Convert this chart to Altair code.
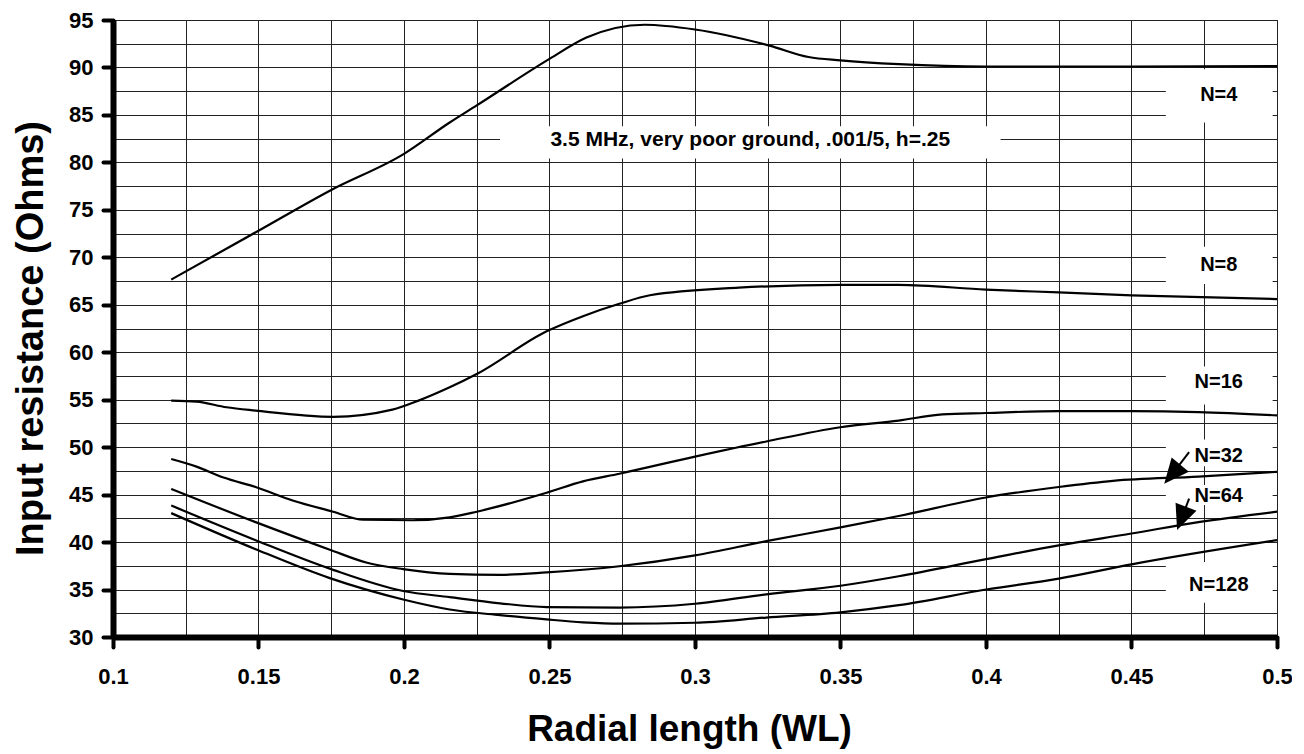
import altair as alt
import pandas as pd

# ---- data ----
x_n4 = [0.12, 0.15, 0.175, 0.2, 0.2157, 0.225, 0.25, 0.2627, 0.2827, 0.30, 0.3256, 0.339, 0.35, 0.37, 0.40, 0.45, 0.50]
y_n4 = [67.65, 72.8, 77.1, 80.9, 84.2, 86.0, 90.9, 93.15, 94.5, 94.0, 92.3, 91.1, 90.75, 90.35, 90.1, 90.1, 90.15]

x_n8 = [0.12, 0.1287, 0.139, 0.149, 0.1757, 0.196, 0.205, 0.2157, 0.225, 0.249, 0.2615, 0.274, 0.2845, 0.315, 0.35, 0.37, 0.40, 0.425, 0.45, 0.50]
y_n8 = [54.9, 54.8, 54.2, 53.85, 53.2, 53.95, 54.9, 56.3, 57.7, 62.2, 63.8, 65.1, 66.0, 66.8, 67.1, 67.1, 66.6, 66.3, 66.0, 65.6]

x_n16 = [0.12, 0.1287, 0.138, 0.149, 0.162, 0.1757, 0.186, 0.203, 0.2157, 0.225, 0.249, 0.2615, 0.274, 0.30, 0.3245, 0.35, 0.37, 0.385, 0.40, 0.425, 0.45, 0.473, 0.50]
y_n16 = [48.75, 47.95, 46.8, 45.8, 44.35, 43.2, 42.35, 42.3, 42.6, 43.2, 45.2, 46.4, 47.2, 49.0, 50.6, 52.1, 52.8, 53.45, 53.6, 53.8, 53.8, 53.7, 53.35]

x_n32 = [0.12, 0.149, 0.1745, 0.187, 0.1997, 0.2157, 0.233, 0.249, 0.274, 0.30, 0.3245, 0.35, 0.37, 0.40, 0.425, 0.4436, 0.473, 0.50]
y_n32 = [45.6, 42.1, 39.2, 37.85, 37.15, 36.65, 36.55, 36.8, 37.45, 38.6, 40.1, 41.55, 42.75, 44.7, 45.8, 46.45, 46.9, 47.4]

x_n64 = [0.12, 0.149, 0.1745, 0.1997, 0.2157, 0.233, 0.249, 0.274, 0.30, 0.3245, 0.35, 0.37, 0.40, 0.425, 0.45, 0.473, 0.50]
y_n64 = [43.85, 40.2, 37.2, 34.85, 34.2, 33.55, 33.15, 33.1, 33.5, 34.5, 35.4, 36.4, 38.2, 39.65, 40.9, 42.1, 43.2]

x_n128 = [0.12, 0.149, 0.1745, 0.1997, 0.2157, 0.233, 0.249, 0.2615, 0.274, 0.30, 0.3245, 0.35, 0.37, 0.40, 0.425, 0.45, 0.50]
y_n128 = [43.05, 39.25, 36.2, 33.95, 32.9, 32.3, 31.85, 31.55, 31.4, 31.5, 32.05, 32.6, 33.35, 35.0, 36.15, 37.65, 40.2]

series_names = ["N=4", "N=8", "N=16", "N=32", "N=64", "N=128"]
series_x = [x_n4, x_n8, x_n16, x_n32, x_n64, x_n128]
series_y = [y_n4, y_n8, y_n16, y_n32, y_n64, y_n128]

# curve labels
label_text = ["N=4", "N=8", "N=16", "N=32", "N=64", "N=128"]
label_x = [0.48, 0.48, 0.48, 0.48, 0.48, 0.48]
label_y = [87.14, 69.2, 56.84, 49.07, 44.86, 35.47]

# white boxes behind labels (gaps in the grid)
box_x1 = [0.233, 0.4618, 0.4618, 0.4618, 0.4618, 0.4618, 0.4618]
box_x2 = [0.405, 0.4985, 0.4985, 0.4985, 0.4985, 0.4985, 0.4985]
box_y1 = [80.4, 84.2, 67.2, 54.5, 48.0, 43.9, 33.6]
box_y2 = [83.8, 89.8, 71.1, 58.5, 50.8, 46.0, 37.9]

# annotation
note_text = ["3.5 MHz, very poor ground, .001/5, h=.25"]
note_x = [0.319]
note_y = [82.34]

# arrows (N=32, N=64)
arrow_x1 = [0.4698, 0.4698]
arrow_y1 = [49.48, 44.57]
arrow_x2 = [0.4640, 0.4672]
arrow_y2 = [47.15, 42.5]
arrow_angle = [220, 201]

x_grid = [round(0.1 + 0.025 * i, 3) for i in range(17)]
y_grid = [30 + 2.5 * i for i in range(27)]

FONT = "Liberation Sans"

rows = []
for name, xs, ys in zip(series_names, series_x, series_y):
    for a, b in zip(xs, ys):
        rows.append({"series": name, "x": a, "y": b})
df = pd.DataFrame(rows)

box_df = pd.DataFrame({"x": box_x1, "x2": box_x2, "y": box_y1, "y2": box_y2})
lab_df = pd.DataFrame({"t": label_text, "x": label_x, "y": label_y})
note_df = pd.DataFrame({"t": note_text, "x": note_x, "y": note_y})
arr_df = pd.DataFrame({"x": arrow_x1, "y": arrow_y1, "x2": arrow_x2, "y2": arrow_y2, "a": arrow_angle})

xscale = alt.Scale(domain=[0.1, 0.5], nice=False, zero=False)
yscale = alt.Scale(domain=[30, 95], nice=False, zero=False)

x_major = "abs(datum.value*20 - round(datum.value*20)) < 0.001"
y_major = "abs(datum.value/5 - round(datum.value/5)) < 0.001"

x_axis = alt.Axis(
    values=x_grid, format="~g", grid=True, gridColor="#222", gridWidth=1,
    labelExpr=x_major + " ? datum.label : ''",
    tickOpacity={"condition": {"test": x_major, "value": 1}, "value": 0},
    tickColor="black", tickWidth=4, tickSize=10, tickCap="round",
    domainColor="black", domainWidth=6,
    labelFont=FONT, labelFontSize=22, labelFontWeight="bold", labelColor="black",
    labelPadding=19, labelOverlap=False, labelFlush=False, labelBound=False,
    title="Radial length (WL)", titleFont=FONT, titleFontSize=37, titleFontWeight="bold",
    titleColor="black", titleX=576, titleY=103, titleBaseline="alphabetic", titleAlign="center",
)
y_axis = alt.Axis(
    values=y_grid, format="~g", grid=True, gridColor="#222", gridWidth=1,
    labelExpr=y_major + " ? datum.label : ''",
    tickOpacity={"condition": {"test": y_major, "value": 1}, "value": 0},
    tickColor="black", tickWidth=4, tickSize=10, tickCap="round",
    domainColor="black", domainWidth=6,
    labelFont=FONT, labelFontSize=22, labelFontWeight="bold", labelColor="black",
    labelPadding=10, labelOverlap=False, labelFlush=False, labelBound=False,
    title="Input resistance (Ohms)", titleFont=FONT, titleFontSize=38, titleFontWeight="bold",
    titleColor="black", titleX=-82, titleY=318, titleAngle=270, titleBaseline="middle", titleAlign="center",
)

X = alt.X("x:Q", scale=xscale, axis=x_axis)
Y = alt.Y("y:Q", scale=yscale, axis=y_axis)

lines = alt.Chart(df).mark_line(color="black", strokeWidth=2.2, interpolate="monotone").encode(
    x=X, y=Y, detail="series:N",
)

boxes = alt.Chart(box_df).mark_rect(color="white", opacity=1).encode(
    x=X, x2="x2:Q", y=Y, y2="y2:Q",
)

rules = alt.Chart(arr_df).mark_rule(color="black", strokeWidth=2).encode(
    x=X, x2="x2:Q", y=Y, y2="y2:Q",
)

heads = alt.Chart(arr_df).mark_point(
    shape="M0,-1L0.9,1L-0.9,1Z", filled=True, color="black", opacity=1, size=620, strokeWidth=0
).encode(
    x=alt.X("x2:Q", scale=xscale, axis=x_axis),
    y=alt.Y("y2:Q", scale=yscale, axis=y_axis),
    angle=alt.Angle("a:Q", scale=None),
)

labels = alt.Chart(lab_df).mark_text(
    font=FONT, fontSize=20, fontWeight="bold", color="black", align="center", baseline="middle"
).encode(x=X, y=Y, text="t:N")

note = alt.Chart(note_df).mark_text(
    font=FONT, fontSize=21, fontWeight="bold", color="black", align="center", baseline="middle"
).encode(x=X, y=Y, text="t:N")

chart = alt.layer(boxes, lines, rules, heads, labels, note).properties(
    width=1164, height=617,
    autosize=alt.AutoSizeParams(type="none"),
    padding={"left": 105, "top": 12, "right": 15, "bottom": 114},
    background="white",
).configure_view(stroke="#222", strokeWidth=1)

chart.save("out.html", embed_options={"renderer": "svg", "actions": False})
